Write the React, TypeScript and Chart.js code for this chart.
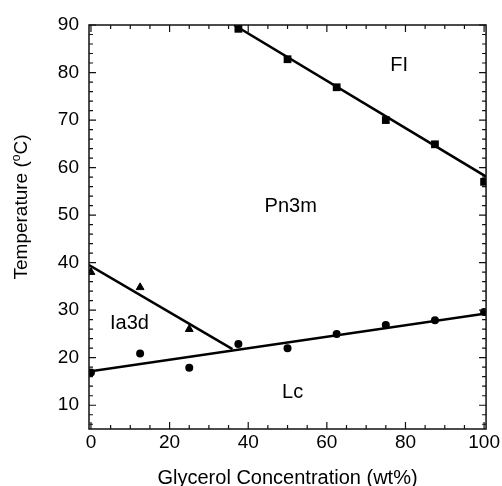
import { useEffect, useRef } from "react";
import { Chart, registerables } from "chart.js";

Chart.register(...registerables);

// Data
const glycerolFl = [37.5, 50, 62.5, 75, 87.5, 100];
const tempFl = [89.2, 82.8, 76.9, 70.0, 64.9, 57.0];
const glycerolIa3d = [0, 12.5, 25];
const tempIa3d = [38.0, 34.8, 26.0];
const glycerolLc = [0, 12.5, 25, 37.5, 50, 62.5, 75, 87.5, 100];
const tempLc = [16.9, 20.9, 17.9, 22.9, 22.0, 25.0, 26.9, 27.9, 29.6];

// Phase boundary lines
const flFitX = [36.4, 100.5];
const flFitY = [90, 58.1];
const ia3dFitX = [-0.5, 36.0];
const ia3dFitY = [39.5, 21.8];
const lcFitX = [-0.5, 100.5];
const lcFitY = [17.1, 29.3];

// Axes
const xTickValues = [0, 20, 40, 60, 80, 100];
const yTickValues = [10, 20, 30, 40, 50, 60, 70, 80, 90];
const xMinorStep = 5;
const yMinorStep = 2;
const yTitleParts = ["Temperature (", "o", "C)"];

// Phase region labels
const phaseNames = ["FI", "Pn3m", "Ia3d", "Lc"];
const phaseX = [78.4, 50.8, 9.8, 51.3];
const phaseY = [81.4, 51.9, 27.3, 12.6];

const FONT = "'Liberation Sans', Arial, sans-serif";

const toPoints = (xs: number[], ys: number[]) => xs.map((x, i) => ({ x, y: ys[i] }));

const framePlugin = {
  id: "frameTicks",
  afterDraw(chart: any) {
    const { ctx, chartArea } = chart;
    const xs = chart.scales.x;
    const ys = chart.scales.y;
    const { left, right, top, bottom } = chartArea;
    ctx.save();
    ctx.strokeStyle = "#111";
    ctx.lineWidth = 1.5;
    ctx.strokeRect(left, top, right - left, bottom - top);
    ctx.lineWidth = 1.2;
    ctx.beginPath();
    for (let v = 0; v <= xs.max; v += xMinorStep) {
      const px = xs.getPixelForValue(v);
      const len = xTickValues.includes(v) ? 7 : 4;
      ctx.moveTo(px, bottom);
      ctx.lineTo(px, bottom - len);
      ctx.moveTo(px, top);
      ctx.lineTo(px, top + len);
    }
    for (let v = 6; v <= ys.max; v += yMinorStep) {
      const py = ys.getPixelForValue(v);
      const len = yTickValues.includes(v) ? 7 : 4;
      ctx.moveTo(left, py);
      ctx.lineTo(left + len, py);
      ctx.moveTo(right, py);
      ctx.lineTo(right - len, py);
    }
    ctx.stroke();

    // Y axis title with superscript "o"
    const big = `19px ${FONT}`;
    const small = `12px ${FONT}`;
    ctx.font = big;
    const w0 = ctx.measureText(yTitleParts[0]).width;
    const w2 = ctx.measureText(yTitleParts[2]).width;
    ctx.font = small;
    const w1 = ctx.measureText(yTitleParts[1]).width;
    const total = w0 + w1 + w2;
    ctx.translate(27, (top + bottom) / 2 - 20);
    ctx.rotate(-Math.PI / 2);
    ctx.fillStyle = "#000";
    ctx.textAlign = "left";
    ctx.textBaseline = "alphabetic";
    let cx = -total / 2;
    ctx.font = big;
    ctx.fillText(yTitleParts[0], cx, 0);
    cx += w0;
    ctx.font = small;
    ctx.fillText(yTitleParts[1], cx, -7);
    cx += w1;
    ctx.font = big;
    ctx.fillText(yTitleParts[2], cx, 0);
    ctx.restore();
  },
  afterDatasetsDraw(chart: any) {
    const { ctx } = chart;
    const xs = chart.scales.x;
    const ys = chart.scales.y;
    ctx.save();
    ctx.fillStyle = "#000";
    ctx.font = `20px ${FONT}`;
    ctx.textAlign = "center";
    ctx.textBaseline = "middle";
    phaseNames.forEach((name, i) => {
      ctx.fillText(name, xs.getPixelForValue(phaseX[i]), ys.getPixelForValue(phaseY[i]));
    });
    ctx.restore();
  },
};

export default function App() {
  const ref = useRef<HTMLCanvasElement | null>(null);

  useEffect(() => {
    if (!ref.current) return;
    const chart = new Chart(ref.current, {
      type: "scatter",
      data: {
        datasets: [
          {
            label: "FI fit",
            data: toPoints(flFitX, flFitY),
            showLine: true,
            borderColor: "#000",
            borderWidth: 2.5,
            pointRadius: 0,
          },
          {
            label: "Ia3d fit",
            data: toPoints(ia3dFitX, ia3dFitY),
            showLine: true,
            borderColor: "#000",
            borderWidth: 2.5,
            pointRadius: 0,
          },
          {
            label: "Lc fit",
            data: toPoints(lcFitX, lcFitY),
            showLine: true,
            borderColor: "#000",
            borderWidth: 2.5,
            pointRadius: 0,
          },
          {
            label: "FI",
            data: toPoints(glycerolFl, tempFl),
            pointStyle: "rect",
            pointRadius: 5.5,
            backgroundColor: "#000",
            borderColor: "#000",
            borderWidth: 0,
          },
          {
            label: "Ia3d",
            data: toPoints(glycerolIa3d, tempIa3d),
            pointStyle: "triangle",
            pointRadius: 4.5,
            backgroundColor: "#000",
            borderColor: "#000",
            borderWidth: 1,
          },
          {
            label: "Lc",
            data: toPoints(glycerolLc, tempLc),
            pointStyle: "circle",
            pointRadius: 4,
            backgroundColor: "#000",
            borderColor: "#000",
            borderWidth: 0,
          },
        ],
      },
      options: {
        animation: false,
        responsive: true,
        maintainAspectRatio: false,
        layout: { padding: { top: 25, right: 11, left: 0, bottom: 0 } },
        plugins: {
          legend: { display: false },
          tooltip: { enabled: false },
        },
        scales: {
          x: {
            type: "linear",
            min: -0.5,
            max: 100.5,
            afterFit: (s: any) => {
              s.height = 57;
            },
            afterBuildTicks: (s: any) => {
              s.ticks = xTickValues.map((v) => ({ value: v }));
            },
            grid: { display: false, drawTicks: false },
            border: { display: false },
            ticks: {
              color: "#000",
              padding: 2,
              maxRotation: 0,
              autoSkip: false,
              font: { family: FONT, size: 19 },
            },
            title: {
              display: true,
              text: "Glycerol Concentration (wt%)",
              color: "#000",
              font: { family: FONT, size: 20, lineHeight: 1 },
              padding: { top: 0, bottom: -2 },
            },
          },
          y: {
            type: "linear",
            min: 5,
            max: 90,
            afterFit: (s: any) => {
              s.width = 89;
            },
            afterBuildTicks: (s: any) => {
              s.ticks = yTickValues.map((v) => ({ value: v }));
            },
            grid: { display: false, drawTicks: false },
            border: { display: false },
            ticks: {
              color: "#000",
              padding: 10,
              autoSkip: false,
              font: { family: FONT, size: 19 },
            },
            title: { display: false },
          },
        },
      },
      plugins: [framePlugin],
    });
    return () => chart.destroy();
  }, []);

  return (
    <div style={{ position: "absolute", left: 0, top: 0, width: 502, height: 486, background: "#fff" }}>
      <canvas ref={ref} />
    </div>
  );
}
